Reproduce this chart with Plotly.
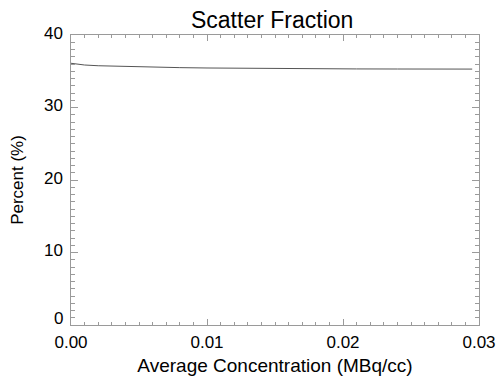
import plotly.graph_objects as go

concentration = [0.0, 0.0005, 0.001, 0.002, 0.004, 0.006, 0.008, 0.010, 0.012,
                 0.015, 0.018, 0.021, 0.024, 0.027, 0.0295]
scatter_fraction = [36.1, 35.95, 35.86, 35.76, 35.65, 35.56, 35.5, 35.45, 35.41,
                    35.37, 35.34, 35.32, 35.31, 35.3, 35.3]

x_ticks = [0.0, 0.01, 0.02, 0.03]
x_labels = ["0.00", "0.01", "0.02", "0.03"]
y_ticks = [0, 10, 20, 30, 40]
y_labels = ["0", "10", "20", "30", "40"]

font_family = "Liberation Sans, Arial, Helvetica, sans-serif"
axis_color = "#9a9a9a"

fig = go.Figure()
fig.add_trace(go.Scatter(x=concentration, y=scatter_fraction, mode="lines",
                         line=dict(color="#555555", width=1), showlegend=False))

common = dict(showgrid=False, zeroline=False, showline=True, linecolor=axis_color,
              linewidth=1, mirror="ticks", ticks="inside", tickcolor=axis_color,
              automargin=False,
              tickfont=dict(family=font_family, size=17, color="black"))

fig.update_xaxes(range=[0, 0.03], tickvals=x_ticks, ticktext=x_labels, ticklen=6,
                 ticklabelstandoff=2,
                 minor=dict(dtick=0.001, ticks="inside", ticklen=3, tickcolor=axis_color),
                 title=dict(text="Average Concentration (MBq/cc)", standoff=9,
                            font=dict(family=font_family, size=19, color="black")),
                 **common)
fig.update_yaxes(range=[0, 40], tickvals=y_ticks, ticklen=7, showticklabels=False,
                 minor=dict(dtick=1, ticks="inside", ticklen=4, tickcolor=axis_color),
                 title=dict(text="Percent (%)", standoff=42,
                            font=dict(family=font_family, size=17, color="black")),
                 **common)

# y tick labels (lowest one lifted clear of the x labels, as in the reference)
for val, lab in zip(y_ticks, y_labels):
    fig.add_annotation(x=0, xref="x domain", y=val, yref="y", text=lab,
                       showarrow=False, xanchor="right", yanchor="middle",
                       xshift=-6, yshift=7 if val == y_ticks[0] else 2,
                       font=dict(family=font_family, size=17, color="black"))

fig.update_layout(
    width=504, height=376,
    margin=dict(l=71, r=25, t=35, b=51),
    paper_bgcolor="white", plot_bgcolor="white",
    title=dict(text="Scatter Fraction", x=0.54, xanchor="center", y=0.925, yanchor="bottom",
               font=dict(family=font_family, size=23, color="black")),
)

fig.write_html("out.html")
